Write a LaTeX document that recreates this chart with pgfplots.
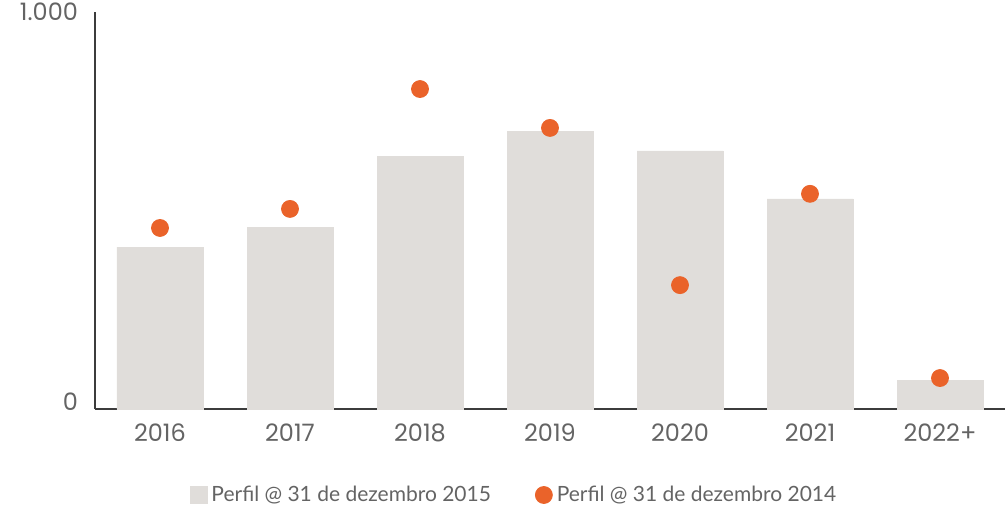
\documentclass[border=0pt]{standalone}
\usepackage{pgfplots}
\pgfplotsset{compat=1.18}
\usepackage{fontspec}
\setmainfont{Lato}
\newfontfamily\tickfont{Poppins}
\definecolor{barcol}{RGB}{224,221,218}
\definecolor{dotcol}{RGB}{234,99,42}
\definecolor{txt}{RGB}{100,100,100}
\definecolor{axcol}{RGB}{60,60,60}
\begin{document}
\begin{tikzpicture}[x=0.5pt,y=0.5pt]
\useasboundingbox (-95,-101) rectangle (910,409);
\begin{axis}[
  at={(0,0)}, anchor=south west,
  scale only axis,
  width=455pt, height=198.5pt,
  xmin=-0.5, xmax=6.5, ymin=0, ymax=1000,
  axis x line*=bottom, axis y line*=left,
  axis line style={axcol, line width=0.8pt, -},
  xtick=data,
  xticklabels={2016,2017,2018,2019,2020,2021,2022+},
  ytick={0,1000}, yticklabels={\raisebox{7pt}{0},\raisebox{-9pt}{1.000}},
  major tick length=0pt,
  tick label style={font=\tickfont\fontsize{12}{14}\selectfont, text=txt},
  xticklabel style={yshift=-4pt},
  yticklabel style={xshift=-5pt},
  clip=false,
  legend style={at={(0.4615,-0.2166)}, anchor=center, draw=none, fill=none,
    legend columns=2, font=\fontsize{10.5}{12}\selectfont, text=txt,
    /tikz/every even column/.append style={column sep=20pt}},
  legend cell align=left,
]
\addplot[ybar, bar width=43pt, fill=barcol, draw=barcol,
  legend image code/.code={\fill[barcol] (0pt,-4.25pt) rectangle (8.5pt,4.25pt);}] coordinates {
  (0,408) (1,458) (2,637) (3,700) (4,650) (5,529) (6,73)};
\addlegendentry{Perfil @ 31 de dezembro 2015}
\addplot[only marks, mark=*, mark size=4.25pt, color=dotcol,
  legend image code/.code={\fill[dotcol] (4.25pt,0pt) circle (4.25pt);}] coordinates {
  (0,456) (1,504) (2,806) (3,708) (4,312) (5,542) (6,78)};
\addlegendentry{Perfil @ 31 de dezembro 2014}
\end{axis}
\end{tikzpicture}
\end{document}
